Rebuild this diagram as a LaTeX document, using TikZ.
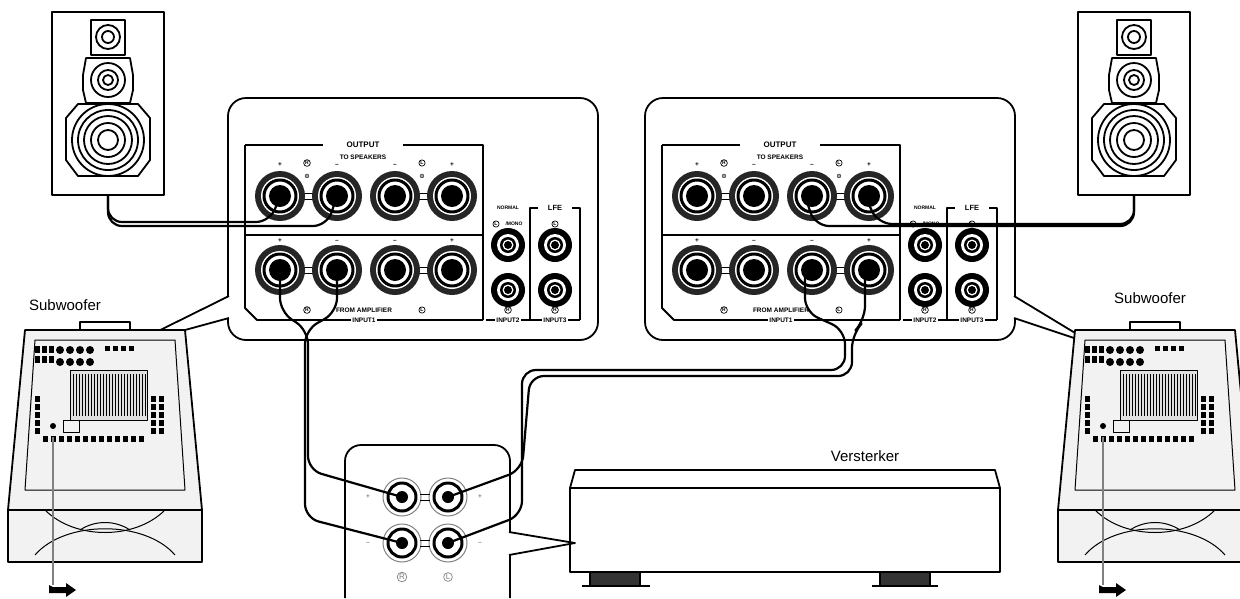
\documentclass[tikz,border=0pt]{standalone}
\usepackage{fontspec}
\setmainfont{Liberation Sans}
\newfontfamily\symf{DejaVu Sans}
\begin{document}
\begin{tikzpicture}[x=1pt,y=-1pt,line join=round,
  lw/.style={line width=1.8pt},
  wire/.style={line width=2.2pt,rounded corners=14pt},
  tiny/.style={font=\fontsize{6.5}{7}\selectfont\bfseries},
  circ/.style={circle,draw,line width=0.7pt,inner sep=0.6pt,font=\fontsize{5}{5}\selectfont\bfseries},
  bigterm/.pic={\fill[black!85] (0,0) circle (25); \fill[white] (0,0) circle (19);\draw[line width=3pt] (0,0) circle (16); \fill (0,0) circle (11);},
  jack/.pic={\fill (0,0) circle (17); \fill[white] (0,0) circle (11); \fill (0,0) circle (8); \fill[white] (0,0) circle (5.5); \fill(0,0) circle(4);},
  ampterm/.pic={\draw[line width=1pt,gray] (0,0) circle (19); \draw[line width=3pt] (0,0) circle (14); \fill (0,0) circle (6);},
]
\useasboundingbox (0,0) rectangle (1240,598);
% ---------- speakers
\foreach \sx in {108,1134}{
 \draw[lw] (\sx-56,12) rectangle (\sx+56,195);
 \draw[lw] (\sx-17,20) rectangle (\sx+17,55); \draw[lw] (\sx,37) circle (12); \draw[lw] (\sx,37) circle (6);
 \draw[lw] (\sx-22,58) -- (\sx+22,58) -- (\sx+25,75) -- (\sx+25,90) -- (\sx+22,103) -- (\sx-22,103) -- (\sx-25,90) -- (\sx-25,75) -- cycle;
 \draw[lw] (\sx,80) circle (17); \draw[lw] (\sx,80) circle (10); \draw[lw] (\sx,80) circle (5);
 \draw[lw] (\sx-30,104) -- (\sx+30,104) -- (\sx+42,118) -- (\sx+42,160) -- (\sx+30,176) -- (\sx-30,176) -- (\sx-42,160) -- (\sx-42,118) -- cycle;
 \foreach \r in {36,30,24,17,10} \draw[lw] (\sx,140) circle (\r);
}
% ---------- panels
\foreach \px in {0,417}{
 \begin{scope}[xshift=\px]
 \draw[lw,rounded corners=18pt,fill=white] (228,98) rectangle (598,340);
 \draw[lw] (245,145) -- (245,308) -- (257,320) -- (483,320);
 \draw[lw] (245,145) -- (323,145); \draw[lw] (403,145) -- (483,145) -- (483,320);
 \node[tiny,font=\fontsize{8}{9}\selectfont\bfseries] at (363,145) {OUTPUT};
 \node[tiny] at (363,157) {TO SPEAKERS};
 \draw[lw] (245,235) -- (483,235);
 \foreach \tx/\s in {280/+,337/--,395/--,452/+}{
   \node[tiny] at (\tx,165) {\s}; \node[tiny] at (\tx,241) {\s};}
 \node[circ] at (307,163) {R}; \node[circ] at (422,163) {L};
 \node[tiny] at (307,176) {{\symf ⊙}}; \node[tiny] at (422,176) {{\symf ⊙}};
 \draw[line width=1pt] (300,193) -- (317,193) (300,199) -- (317,199) (415,193)--(432,193) (415,199)--(432,199);
 \draw[line width=1pt] (300,267) -- (317,267) (300,273) -- (317,273) (415,267)--(432,267) (415,273)--(432,273);
 \foreach \tx in {280,337,395,452}{\pic at (\tx,196) {bigterm}; \pic at (\tx,270) {bigterm};}
 \node[circ] at (307,310) {R}; \node[circ] at (422,310) {L};
 \node[tiny] at (364,310) {FROM AMPLIFIER}; \node[tiny,fill=white,inner sep=1pt] at (364,320) {INPUT1};
 % normal/LFE
 \draw[lw] (530,320) -- (530,208) -- (538,208); \draw[lw] (572,208) -- (580,208) -- (580,320);
 \draw[lw] (486,320) -- (580,320);
 \node[tiny,font=\fontsize{5}{6}\selectfont\bfseries] at (508,208) {NORMAL};
 \node[tiny,font=\fontsize{7.5}{8}\selectfont\bfseries] at (555,208) {LFE};
 \node[circ] at (496,224) {L}; \node[tiny,font=\fontsize{5}{6}\selectfont\bfseries] at (514,224) {/MONO};
 \node[circ] at (555,224) {L};
 \foreach \jx in {508,555}{\pic at (\jx,245) {jack}; \pic at (\jx,290) {jack};}
 \node[circ] at (508,310) {R}; \node[tiny,fill=white,inner sep=1pt] at (508,320) {INPUT2};
 \node[circ] at (555,310) {R}; \node[tiny,fill=white,inner sep=1pt] at (555,320) {INPUT3};
 \end{scope}
}
% callouts of panels
\draw[lw,fill=white] (229,296) -- (130,345) -- (229,318);
\draw[white,line width=3pt] (228,299) -- (228,315);
\draw[lw,fill=white] (1014,296) -- (1095,345) -- (1014,318);
\draw[white,line width=3pt] (1015,299) -- (1015,315);
% speaker wires
\draw[wire] (108,195) -- (108,222) -- (270,222) -- (280,196);
\draw[wire] (108,195) -- (108,226) -- (327,226) -- (337,196);
\draw[wire] (1134,195) -- (1134,224) -- (878,224) -- (865,196);
\draw[wire] (1134,195) -- (1134,226) -- (815,226) -- (805,196);
% ---------- subwoofers
\foreach \cx/\lx/\ly in {105/65/305,1155/1150/298}{
 \begin{scope}[xshift=\cx]
 \draw[lw,fill=white] (-25,330) -- (-25,322) -- (25,322) -- (25,330);
 \draw[lw,fill=gray!10] (-80,330) -- (80,330) -- (97,510) -- (97,562) -- (-97,562) -- (-97,510) -- cycle;
 \draw[lw] (-97,510) -- (97,510);
 \draw[line width=1pt] (-70,340) -- (70,340) -- (80,490) -- (-80,490) -- cycle;
 \draw[line width=1pt] (-60,510) .. controls (-30,540) and (30,540) .. (60,510);
 \draw[line width=1pt] (-70,555) .. controls (-40,520) and (40,520) .. (70,555);
 \draw[line width=1pt] (-25,530) .. controls (-10,520) and (10,520) .. (25,530);
 \draw[line width=1pt,fill=gray!25] (-35,370) rectangle (42,420);
 \foreach \i in {-32,-29,...,40} \draw[line width=0.8pt] (\i,374) -- (\i,416);
 \foreach \i in {-70,-63,-56} {\fill (\i,346) rectangle +(5,7); \fill (\i,356) rectangle +(5,7);}
 \foreach \i in {-45,-35,-25,-15} {\fill (\i,350) circle (4); \fill (\i,362) circle (4);}
 \foreach \i in {0,8,16,24} {\fill (\i,346) rectangle +(5,5);}
 \foreach \i in {-62,-54,...,40} \fill (\i,436) rectangle +(5,6);
 \foreach \j in {396,404,...,430} {\fill (-70,\j) rectangle +(5,6); \fill (46,\j) rectangle +(5,6); \fill (54,\j) rectangle +(5,6);}
 \draw[line width=1pt] (-42,420) rectangle (-26,432); \fill (-52,426) circle (3);
 \draw[line width=2pt,gray] (-52,437) -- (-52,585);
 \fill (-52,587) -- (-39,587) -- (-39,583) -- (-29,590) -- (-39,597) -- (-39,593) -- (-56,593) -- (-56,585) -- cycle;
 \end{scope}
 \node[font=\fontsize{15}{17}\selectfont] (sub\cx) at (\lx,\ly) {Subwoofer};
}
% ---------- amplifier
\node[font=\fontsize{15}{17}\selectfont] (vers) at (865,456) {Versterker};
\draw[lw] (575,470) -- (995,470) -- (1000,488) -- (1000,572) -- (570,572) -- (570,488) -- cycle;
\draw[lw] (570,488) -- (1000,488);
\draw[lw,fill=black!80] (590,572) rectangle (640,586);
\draw[lw,fill=black!80] (880,572) rectangle (930,586);
\draw[lw] (582,586) -- (650,586) (872,586) -- (938,586);
% amp terminal panel
\draw[lw,rounded corners=16pt] (345,598) -- (345,445) -- (510,445) -- (510,598);
\draw[lw,fill=white] (509,532) -- (575,543) -- (509,555);
\draw[white,line width=3pt] (510,535) -- (510,552);
\foreach \ax/\ay in {402/497,448/497,402/543,448/543} \pic at (\ax,\ay) {ampterm};
\draw[line width=1pt] (420,494) -- (430,494) (420,500) -- (430,500) (420,540) -- (430,540) (420,546) -- (430,546);
\node[tiny,gray] at (368,497) {+}; \node[tiny,gray] at (480,497) {+};
\node[tiny,gray] at (368,543) {--}; \node[tiny,gray] at (480,543) {--};
\node[circ,gray,font=\fontsize{8}{8}\selectfont] at (402,577) {R}; \node[circ,gray,font=\fontsize{8}{8}\selectfont] at (448,577) {L};
% amp wires
\draw[wire] (280,270) -- (280,312) -- (308,330) -- (308,470) -- (402,497);
\draw[wire] (337,270) -- (337,312) -- (305,330) -- (305,518) -- (402,543);
\draw[wire] (865,270) -- (865,320) -- (852,334) -- (852,376) -- (530,376) -- (522,470) -- (448,497);
\draw[wire] (805,270) -- (805,312) -- (845,330) -- (845,370) -- (522,370) -- (522,515) -- (448,543);
\end{tikzpicture}
\end{document}
